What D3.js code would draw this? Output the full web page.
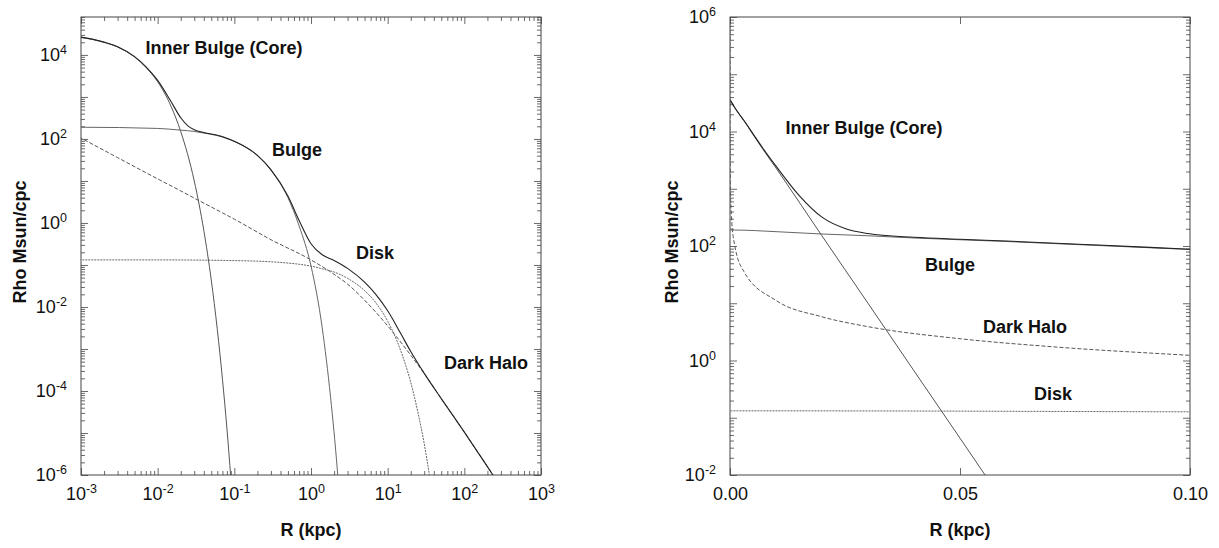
<!DOCTYPE html>
<html>
<head>
<meta charset="utf-8">
<script src="https://cdn.jsdelivr.net/npm/d3@7"></script>
<style>
  body { margin: 0; background: #fff; }
  text { font-family: "Liberation Sans", Arial, sans-serif; fill: #111; }
</style>
</head>
<body>
<div id="chart"></div>
<script>
// values: R in kpc, Rho in Msun/cpc
const coreR   = [0.0001, 0.001, 0.002, 0.003, 0.005, 0.007, 0.01, 0.015, 0.02, 0.03, 0.04, 0.05, 0.06, 0.07, 0.08, 0.09];
const coreRho = [3.4e4, 2.6e4, 2.0e4, 1.55e4, 8.9e3, 5.1e3, 2.3e3, 590, 150, 10, 0.66, 0.044, 2.9e-3, 1.9e-4, 1.3e-5, 8.3e-7];

const bulgeR   = [0.0001, 0.001, 0.01, 0.02, 0.03, 0.04, 0.06, 0.08, 0.1, 0.2, 0.3, 0.5, 0.7, 1.0, 1.4, 1.8, 2.2, 2.3];
const bulgeRho = [190, 190, 178, 162, 151, 138, 120, 102, 87, 40, 18, 4.0, 0.85, 0.095, 3.2e-3, 7.1e-5, 1.4e-6, 5e-7];

const haloR   = [3e-8, 1e-7, 1e-6, 1e-5, 1e-4, 3e-4, 0.001, 0.003, 0.01, 0.02, 0.03, 0.05, 0.07, 0.1, 0.3, 1, 2, 3, 5, 10, 20, 30, 50, 100, 200, 300];
const haloRho = [2.5e6, 7.8e5, 8.3e4, 8.9e3, 980, 340, 105, 36, 11.2, 5.8, 3.9, 2.4, 1.74, 1.23, 0.40, 0.132, 0.060, 0.035, 0.0145, 3.55e-3, 7.1e-4, 2.6e-4, 6.6e-5, 1.05e-5, 1.58e-6, 5.1e-7];

const diskR   = [0.0001, 0.01, 0.1, 0.3, 0.5, 0.7, 1, 1.4, 2, 3, 5, 7, 10, 15, 20, 25, 30, 35, 37];
const diskRho = [0.132, 0.132, 0.127, 0.119, 0.111, 0.104, 0.094, 0.081, 0.068, 0.048, 0.0245, 0.0126, 4.6e-3, 8.5e-4, 1.6e-4, 2.9e-5, 5.5e-6, 1.0e-6, 5e-7];

const totalR   = [0.0001, 0.001, 0.002, 0.003, 0.005, 0.007, 0.01, 0.015, 0.02, 0.025, 0.03, 0.04, 0.05, 0.06, 0.08, 0.1, 0.2, 0.3, 0.5, 0.7, 1, 1.4, 2, 3, 5, 7, 10, 15, 20, 30, 50, 100, 200, 300];
const totalRho = [3.5e4, 2.66e4, 2.02e4, 1.57e4, 9.1e3, 5.3e3, 2.48e3, 767, 319, 202, 165, 142, 131, 122, 104, 88, 40.6, 18.7, 4.36, 1.14, 0.32, 0.175, 0.128, 0.083, 0.039, 0.0199, 8.1e-3, 2.23e-3, 8.7e-4, 2.63e-4, 6.6e-5, 1.05e-5, 1.58e-6, 5.1e-7];

// tick labels
const leftXTicks  = [1e-3, 1e-2, 1e-1, 1, 1e1, 1e2, 1e3];
const leftYTicks  = [1e-6, 1e-4, 1e-2, 1, 1e2, 1e4];
const rightXTicks = [0, 0.05, 0.1];
const rightYTicks = [1e-2, 1, 1e2, 1e4, 1e6];

const series = [
  {name: 'halo',  r: haloR,  rho: haloRho,  stroke: '#555', dash: '4,2', width: 1},
  {name: 'disk',  r: diskR,  rho: diskRho,  stroke: '#666', dash: '2,1', width: 1},
  {name: 'bulge', r: bulgeR, rho: bulgeRho, stroke: '#666', dash: null,  width: 1},
  {name: 'core',  r: coreR,  rho: coreRho,  stroke: '#555', dash: null,  width: 1},
  {name: 'total', r: totalR, rho: totalRho, stroke: '#222', dash: null,  width: 1.1}
];

const svg = d3.select('#chart').append('svg')
    .attr('width', 1219)
    .attr('height', 548);

function decadeMinors(lo, hi) {
  let out = [];
  for (let e = Math.floor(Math.log10(lo)); e <= Math.ceil(Math.log10(hi)); e++) {
    for (let k = 2; k <= 9; k++) {
      let v = k * Math.pow(10, e);
      if (v >= lo && v <= hi) out.push(v);
    }
  }
  return out;
}

function decades(lo, hi) {
  let out = [];
  for (let e = Math.ceil(Math.log10(lo) - 1e-9); e <= Math.floor(Math.log10(hi) + 1e-9); e++) out.push(Math.pow(10, e));
  return out;
}

function powLabel(sel) {
  sel.each(function(d) {
    let t = d3.select(this).text('10');
    t.append('tspan')
      .attr('dy', '-0.55em')
      .attr('font-size', '12.5px')
      .text(Math.round(Math.log10(d)));
  });
}

function drawPanel(cfg) {
  const g = svg.append('g').attr('transform', `translate(${cfg.left},${cfg.top})`);
  const x = cfg.x.range([0, cfg.width]);
  const y = d3.scaleLog().domain(cfg.yDomain).range([cfg.height, 0]);

  g.append('clipPath').attr('id', 'clip-' + cfg.id)
    .append('rect').attr('width', cfg.width).attr('height', cfg.height);

  // y ticks, inward on both sides
  const yMajor = decades(cfg.yDomain[0], cfg.yDomain[1]);
  const yMinor = decadeMinors(cfg.yDomain[0], cfg.yDomain[1]);
  [[d3.axisLeft, 0], [d3.axisRight, cfg.width]].forEach(([ax, tx]) => {
    g.append('g').attr('class', 'tk').attr('transform', `translate(${tx},0)`)
      .call(ax(y).tickValues(yMinor).tickSize(-4).tickSizeOuter(0).tickFormat(''));
    g.append('g').attr('class', 'tk').attr('transform', `translate(${tx},0)`)
      .call(ax(y).tickValues(yMajor).tickSize(-7).tickSizeOuter(0).tickFormat(''));
  });

  // x ticks top and bottom
  [[d3.axisBottom, cfg.height], [d3.axisTop, 0]].forEach(([ax, ty]) => {
    if (cfg.xMinor) {
      g.append('g').attr('class', 'tk').attr('transform', `translate(0,${ty})`)
        .call(ax(x).tickValues(cfg.xMinor).tickSize(-4).tickSizeOuter(0).tickFormat(''));
    }
    g.append('g').attr('class', 'tk').attr('transform', `translate(0,${ty})`)
      .call(ax(x).tickValues(cfg.xMajor).tickSize(-7).tickSizeOuter(0).tickFormat(''));
  });
  g.selectAll('.tk .domain').remove();
  g.selectAll('.tk line').attr('stroke', '#444').attr('stroke-width', 0.8);

  // tick labels
  const yl = g.append('g').call(d3.axisLeft(y).tickValues(cfg.yLabels).tickSize(0).tickPadding(14));
  yl.select('.domain').remove();
  yl.selectAll('text').attr('font-size', '18px').attr('fill', '#111')
    .attr('font-family', '"Liberation Sans", Arial, sans-serif').call(powLabel);

  const xl = g.append('g').attr('transform', `translate(0,${cfg.height})`)
    .call(d3.axisBottom(x).tickValues(cfg.xLabels).tickSize(0).tickPadding(12));
  xl.select('.domain').remove();
  xl.selectAll('text').attr('font-size', '18px').attr('fill', '#111')
    .attr('font-family', '"Liberation Sans", Arial, sans-serif');
  if (cfg.xPow) xl.selectAll('text').call(powLabel);
  else xl.selectAll('text').text(d3.format('.2f'));

  // frame
  g.append('rect')
    .attr('width', cfg.width).attr('height', cfg.height)
    .attr('fill', 'none').attr('stroke', '#444').attr('stroke-width', 1);

  // curves
  const line = d3.line()
    .x(d => x(d.r))
    .y(d => y(d.rho))
    .curve(d3.curveMonotoneX);

  g.append('g').attr('clip-path', `url(#clip-${cfg.id})`)
    .selectAll('path')
    .data(series)
    .enter()
    .append('path')
    .attr('d', s => line(d3.zip(s.r, s.rho).map(([r, rho]) => ({r, rho}))))
    .attr('fill', 'none')
    .attr('stroke', s => s.stroke)
    .attr('stroke-width', s => s.width)
    .attr('stroke-dasharray', s => s.dash);

  // annotations
  g.selectAll('.lbl')
    .data(cfg.labels)
    .enter()
    .append('text')
    .attr('class', 'lbl')
    .attr('x', d => d.x)
    .attr('y', d => d.y)
    .attr('dy', '0.35em')
    .attr('text-anchor', d => d.anchor || 'middle')
    .attr('font-size', '18px')
    .attr('font-weight', 'bold')
    .text(d => d.text);

  // axis titles
  g.append('text')
    .attr('x', cfg.width / 2)
    .attr('y', cfg.height + 55)
    .attr('dy', '0.35em')
    .attr('text-anchor', 'middle')
    .attr('font-size', '18px')
    .attr('font-weight', 'bold')
    .text('R (kpc)');

  g.append('text')
    .attr('transform', `translate(${cfg.yTitleX},${cfg.height / 2 - 4}) rotate(-90)`)
    .attr('dy', '0.35em')
    .attr('text-anchor', 'middle')
    .attr('font-size', '18px')
    .attr('font-weight', 'bold')
    .text('Rho Msun/cpc');
}

drawPanel({
  id: 'loglog', left: 81, top: 17, width: 460, height: 458,
  x: d3.scaleLog().domain([1e-3, 1e3]),
  yDomain: [1e-6, 8e4],
  xMajor: decades(1e-3, 1e3),
  xMinor: decadeMinors(1e-3, 1e3),
  xLabels: leftXTicks, xPow: true,
  yLabels: leftYTicks,
  yTitleX: -61,
  labels: [
    {text: 'Inner Bulge (Core)', x: 143, y: 31},
    {text: 'Bulge', x: 216, y: 133},
    {text: 'Disk', x: 294, y: 236},
    {text: 'Dark Halo', x: 363, y: 346, anchor: 'start'}
  ]
});

drawPanel({
  id: 'linlog', left: 730, top: 17, width: 460, height: 458,
  x: d3.scaleLinear().domain([0, 0.1]),
  yDomain: [1e-2, 1e6],
  xMajor: rightXTicks,
  xMinor: null,
  xLabels: rightXTicks, xPow: false,
  yLabels: rightYTicks,
  yTitleX: -58,
  labels: [
    {text: 'Inner Bulge (Core)', x: 134, y: 111},
    {text: 'Bulge', x: 220, y: 248},
    {text: 'Dark Halo', x: 295, y: 310},
    {text: 'Disk', x: 323, y: 377}
  ]
});
</script>
</body>
</html>
